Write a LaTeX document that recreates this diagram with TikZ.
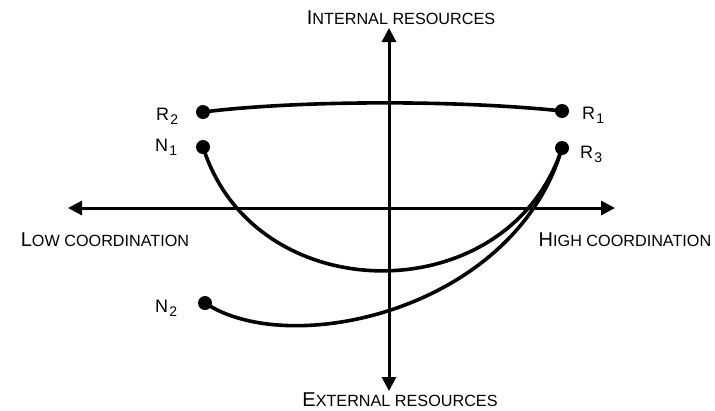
\documentclass[tikz,border=0pt]{standalone}
\usepackage{fontspec}
\setmainfont{Liberation Sans}
\usetikzlibrary{arrows.meta}
\newcommand\fsc[2]{{\fontsize{20}{20}\selectfont #1}{\fontsize{16.2}{16.2}\selectfont #2}}
\newcommand\lb[2]{{\fontsize{18}{18}\selectfont #1}\kern1.2pt{\fontsize{14}{14}\selectfont\raisebox{-4.3pt}{#2}}}
\begin{document}
\begin{tikzpicture}[x=1pt,y=-1pt,
  dotnode/.style={circle,fill=black,inner sep=0pt,minimum size=14pt},
  lbl/.style={anchor=base west,inner sep=0pt},
  axlbl/.style={anchor=base,inner sep=0pt},
  axis/.style={line width=3pt,-{Triangle[length=14pt,width=14pt]}},
  curve/.style={line width=3.6pt}]
\useasboundingbox (0,0) rectangle (715,410);
% axes
\coordinate (top) at (389,28);
\coordinate (bot) at (389,391);
\coordinate (left) at (68,208);
\coordinate (right) at (615,208);
\coordinate (origin) at (389,208);
\draw[axis] (origin) -- (top);
\draw[axis] (origin) -- (bot);
\draw[axis] (origin) -- (left);
\draw[axis] (origin) -- (right);
% axis labels
\node[axlbl] (tint) at (401,24) {\fsc{I}{NTERNAL RESOURCES}};
\node[axlbl] (text) at (400,406) {\fsc{E}{XTERNAL RESOURCES}};
\node[axlbl] (tlow) at (105,246) {\fsc{L}{OW COORDINATION}};
\node[axlbl] (thigh) at (625,246) {\fsc{H}{IGH COORDINATION}};
% dots
\node[dotnode] (r2) at (203,112) {};
\node[dotnode] (r1) at (562,111) {};
\node[dotnode] (n1) at (203,147) {};
\node[dotnode] (r3) at (562,148) {};
\node[dotnode] (n2) at (205,303) {};
% labels
\node[lbl] (lr2) at (156,120) {\lb{R}{2}};
\node[lbl] (lr1) at (582,119) {\lb{R}{1}};
\node[lbl] (ln1) at (155,151) {\lb{N}{1}};
\node[lbl] (lr3) at (580,158) {\lb{R}{3}};
\node[lbl] (ln2) at (155,312) {\lb{N}{2}};
% curves
\draw[curve] (r2.center) .. controls (300,100) and (460,100) .. (r1.center);
\draw[curve] (n1.center) .. controls (255,312) and (509,312) .. (r3.center);
\draw[curve] (n2.center) .. controls (290,360) and (515,310) .. (r3.center);
\end{tikzpicture}
\end{document}
